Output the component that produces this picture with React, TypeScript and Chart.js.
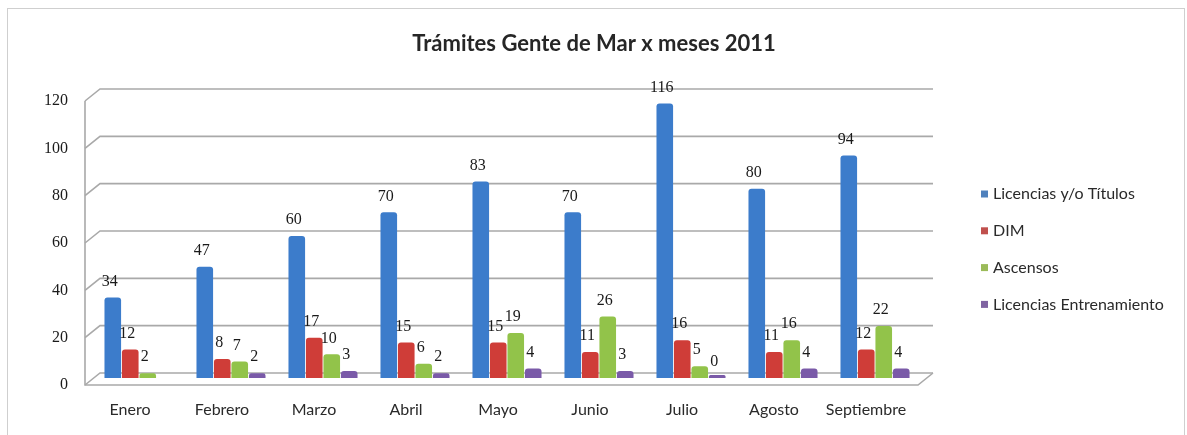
import React, { useEffect, useRef } from "react";
import { Chart, registerables } from "chart.js";

Chart.register(...registerables);

const chartTitle = "Trámites Gente de Mar x meses 2011";
const months = ["Enero", "Febrero", "Marzo", "Abril", "Mayo", "Junio", "Julio", "Agosto", "Septiembre"];
const licencias = [34, 47, 60, 70, 83, 70, 116, 80, 94];
const dim = [12, 8, 17, 15, 15, 11, 16, 11, 12];
const ascensos = [2, 7, 10, 6, 19, 26, 5, 16, 22];
const entrenamiento = [null, 2, 3, 2, 4, 3, 0, 4, 4];
const seriesNames = ["Licencias y/o Títulos", "DIM", "Ascensos", "Licencias Entrenamiento"];
const seriesColors = ["#3C7CCB", "#CF3D38", "#92C34A", "#7A5AA8"];
const legendColors = ["#4F81BD", "#C0504D", "#9BBB59", "#8064A2"];
const yTicks = [0, 20, 40, 60, 80, 100, 120];

const wallPlugin = {
  id: "wall3d",
  beforeDraw(chart: any) {
    const ctx = chart.ctx;
    ctx.save();
    ctx.fillStyle = "#ffffff";
    ctx.fillRect(0, 0, chart.width, chart.height);
    ctx.strokeStyle = "#cfcfcf";
    ctx.lineWidth = 1;
    ctx.strokeRect(7.5, 8.5, 1177, 450);
    ctx.restore();
  },
  beforeDatasetsDraw(chart: any) {
    const ctx = chart.ctx;
    const ca = chart.chartArea;
    const y = chart.scales.y;
    const L = ca.left - 8;
    const B = ca.left + 7;
    const R = ca.right + 12;
    ctx.save();
    ctx.strokeStyle = "#a9a9a9";
    ctx.lineWidth = 1.6;
    yTicks.forEach((v) => {
      const p = y.getPixelForValue(v);
      ctx.beginPath();
      ctx.moveTo(L, p + 7);
      ctx.lineTo(B, p - 5);
      ctx.lineTo(R, p - 5);
      ctx.stroke();
    });
    const top = y.getPixelForValue(120) + 7;
    const bot = y.getPixelForValue(0) + 7;
    ctx.beginPath();
    ctx.moveTo(L, top);
    ctx.lineTo(L, bot);
    ctx.lineTo(R - 15, bot);
    ctx.lineTo(R, bot - 12);
    ctx.stroke();
    ctx.restore();
  },
};

const titlePlugin = {
  id: "sideTitle",
  afterDraw(chart: any) {
    const ctx = chart.ctx;
    ctx.save();
    ctx.font = "bold 22px Lato";
    ctx.fillStyle = "#262626";
    ctx.textAlign = "center";
    ctx.textBaseline = "middle";
    ctx.fillText(chartTitle, 594, 44);
    ctx.restore();
  },
};

const labelPlugin = {
  id: "valueLabels",
  afterDatasetsDraw(chart: any) {
    const ctx = chart.ctx;
    const y = chart.scales.y;
    ctx.save();
    ctx.font = '16px "Liberation Serif"';
    ctx.fillStyle = "#1a1a1a";
    ctx.textAlign = "center";
    ctx.textBaseline = "middle";
    chart.data.datasets.forEach((ds: any, i: number) => {
      const meta = chart.getDatasetMeta(i);
      meta.data.forEach((bar: any, j: number) => {
        const v = ds.data[j];
        if (v === null || v === undefined) return;
        ctx.fillText(String(v), bar.x - 3, y.getPixelForValue(v) - 16);
      });
    });
    ctx.restore();
  },
};

const legendPlugin = {
  id: "sideLegend",
  afterDraw(chart: any) {
    const ctx = chart.ctx;
    ctx.save();
    ctx.font = "16px Lato";
    ctx.textBaseline = "middle";
    ctx.textAlign = "left";
    chart.data.datasets.forEach((ds: any, i: number) => {
      const cy = 194 + i * 36.8;
      ctx.fillStyle = legendColors[i];
      ctx.fillRect(981, cy - 3.5, 7, 7);
      ctx.fillStyle = "#2a2a2a";
      ctx.fillText(ds.label, 993, cy);
    });
    ctx.restore();
  },
};

export default function App() {
  const canvasRef = useRef<HTMLCanvasElement | null>(null);

  useEffect(() => {
    if (!canvasRef.current) return;
    const seriesData = [licencias, dim, ascensos, entrenamiento];
    const chart = new Chart(canvasRef.current, {
      type: "bar",
      data: {
        labels: months,
        datasets: seriesData.map((d, i) => ({
          label: seriesNames[i],
          data: d as any,
          backgroundColor: seriesColors[i],
          borderColor: seriesColors[i],
          borderWidth: 0,
          borderRadius: { topLeft: 3, topRight: 3, bottomLeft: 0, bottomRight: 0 },
          borderSkipped: "bottom",
          minBarLength: i === 3 ? 3 : 0,
          categoryPercentage: 0.76,
          barPercentage: 0.95,
        })),
      },
      options: {
        animation: false,
        responsive: true,
        maintainAspectRatio: false,
        layout: { padding: { top: 94, left: 43, right: 266, bottom: 12 } },
        plugins: {
          legend: { display: false },
          tooltip: { enabled: false },
          title: { display: false },
        },
        scales: {
          x: {
            grid: { display: false, drawTicks: false },
            border: { display: false },
            ticks: {
              color: "#2a2a2a",
              font: { family: "Lato", size: 16 },
              padding: 22,
              labelOffset: -9,
              maxRotation: 0,
              autoSkip: false,
            },
            afterFit: (s: any) => {
              s.height = 45;
            },
          },
          y: {
            min: 0,
            max: 120,
            grid: { display: false, drawTicks: false },
            border: { display: false },
            ticks: {
              stepSize: 20,
              color: "#1a1a1a",
              font: { family: "Liberation Serif", size: 16 },
              padding: 25,
              labelOffset: 7,
            },
            afterFit: (s: any) => {
              s.width = 50;
            },
          },
        },
      },
      plugins: [wallPlugin, labelPlugin, legendPlugin, titlePlugin],
    });
    return () => chart.destroy();
  }, []);

  return (
    <div style={{ position: "absolute", left: 0, top: 0, width: 1187, height: 435 }}>
      <canvas ref={canvasRef} />
    </div>
  );
}
